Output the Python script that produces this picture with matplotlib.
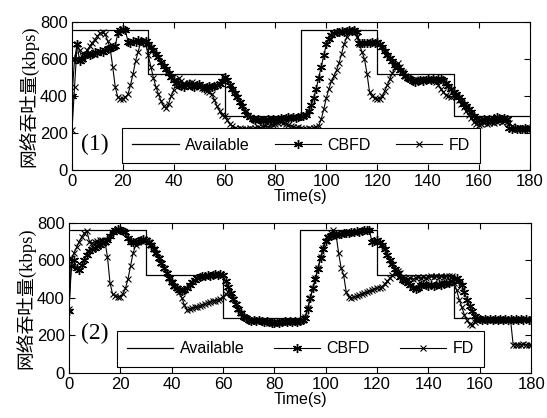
import matplotlib
matplotlib.use("Agg")
import matplotlib.pyplot as plt
import numpy as np

time_s = list(range(0, 181))

avail_edges = [0, 30, 60, 90, 120, 150, 180]
avail_levels = [760, 520, 290, 760, 520, 290, 290]

cbfd1 = [400, 600, 680, 590, 600, 620, 630, 625, 630, 640,
         635, 645, 640, 650, 655, 660, 665, 670, 740, 760,
         765, 755, 695, 690, 700, 695, 705, 700, 695, 700,
         680, 665, 650, 630, 610, 585, 565, 545, 525, 505,
         485, 470, 460, 455, 450, 460, 465, 455, 450, 460,
         465, 455, 445, 450, 455, 450, 455, 460, 465, 480,
         505, 485, 460, 440, 415, 395, 370, 345, 320, 300,
         285, 275, 270, 275, 270, 265, 270, 275, 270, 275,
         270, 275, 280, 275, 280, 285, 280, 285, 280, 285,
         290, 295, 300, 320, 350, 390, 440, 500, 560, 620,
         680, 710, 730, 740, 745, 745, 750, 745, 750, 755,
         750, 755, 745, 690, 685, 690, 685, 690, 695, 690,
         695, 680, 665, 645, 625, 605, 590, 570, 555, 540,
         525, 510, 500, 490, 480, 475, 480, 485, 480, 485,
         490, 485, 490, 485, 490, 495, 485, 470, 455, 440,
         425, 410, 395, 380, 360, 345, 330, 315, 295, 280,
         270, 270, 275, 270, 275, 270, 280, 285, 280, 275,
         280, 275, 230, 225, 230, 225, 220, 225, 230, 225,
         230]

fd1 = [215, 450, 680, 650, 600, 620, 650, 670, 690, 705,
       725, 740, 745, 735, 700, 660, 560, 450, 395, 385,
       385, 395, 410, 460, 520, 590, 640, 690, 700, 680,
       620, 560, 500, 450, 410, 375, 345, 335, 360, 400,
       435, 475, 500, 480, 470, 460, 470, 475, 465, 460,
       450, 445, 440, 430, 420, 410, 380, 345, 320, 300,
       290, 270, 250, 240, 230, 225, 230, 225, 220, 225,
       230, 225, 230, 235, 230, 235, 240, 235, 240, 245,
       250, 255, 260, 255, 250, 245, 240, 235, 230, 235,
       230, 225, 225, 230, 225, 230, 235, 240, 275, 330,
       390, 440, 480, 510, 540, 580, 630, 680, 720, 745,
       760, 750, 720, 680, 640, 600, 520, 420, 400, 390,
       385, 385, 400, 430, 460, 495, 525, 555, 580, 560,
       530, 510, 500, 490, 485, 480, 485, 490, 485, 490,
       485, 490, 485, 475, 460, 440, 420, 405, 400, 395,
       400, 395, 380, 360, 340, 320, 300, 280, 260, 250,
       245, 250, 255, 250, 255, 260, 255, 260, 265, 260,
       265, 260, 255, 240, 230, 225, 230, 225, 230, 225,
       230]

cbfd2 = [330, 570, 600, 560, 550, 575, 600, 630, 650, 660,
         665, 675, 680, 690, 700, 710, 730, 750, 760, 765,
         760, 755, 750, 720, 700, 695, 700, 705, 710, 715,
         710, 700, 680, 660, 640, 610, 585, 560, 530, 505,
         485, 465, 450, 440, 435, 440, 455, 470, 485, 495,
         505, 510, 515, 515, 520, 515, 520, 525, 520, 525,
         520, 490, 460, 425, 395, 365, 340, 320, 300, 290,
         280, 275, 280, 275, 280, 275, 270, 275, 270, 265,
         265, 270, 265, 270, 275, 270, 275, 270, 275, 270,
         275, 280, 295, 340, 400, 450, 500, 555, 610, 660,
         705, 725, 730, 735, 735, 740, 740, 745, 745, 745,
         750, 750, 755, 750, 755, 760, 760, 760, 700, 705,
         710, 700, 680, 660, 630, 600, 580, 555, 530, 510,
         495, 490, 480, 470, 455, 445, 450, 470, 475, 470,
         465, 470, 465, 470, 475, 470, 475, 480, 480, 490,
         500, 505, 490, 470, 430, 390, 355, 330, 305, 290,
         285, 280, 285, 280, 285, 280, 285, 280, 285, 280,
         285, 280, 285, 280, 285, 280, 285, 280, 285, 280,
         280]

fd2 = [340, 610, 640, 670, 700, 725, 745, 755, 700, 690,
       700, 705, 710, 710, 700, 620, 480, 420, 410, 405,
       405, 420, 450, 500, 570, 640, 680, 700, 705, 710,
       710, 700, 680, 660, 640, 610, 585, 560, 530, 505,
       485, 465, 450, 430, 400, 360, 335, 340, 345, 350,
       350, 355, 360, 365, 375, 380, 385, 385, 390, 395,
       405, 420, 430, 420, 395, 365, 340, 318, 300, 290,
       282, 278, 282, 276, 280, 274, 272, 276, 268, 266,
       268, 272, 266, 270, 276, 272, 276, 270, 274, 272,
       276, 282, 300, 345, 400, 455, 505, 560, 615, 665,
       705, 725, 745, 760, 740, 640, 560, 520, 430, 405,
       400, 405, 410, 415, 420, 425, 430, 435, 440, 445,
       450, 455, 460, 475, 490, 505, 520, 535, 545, 530,
       510, 505, 500, 505, 500, 505, 510, 505, 510, 505,
       510, 515, 510, 515, 510, 515, 510, 515, 515, 515,
       480, 440, 390, 350, 310, 280, 260, 255, 270, 280,
       285, 282, 285, 280, 284, 282, 285, 280, 284, 282,
       285, 282, 280, 150, 150, 148, 150, 152, 150, 148,
       150]

series = [(cbfd1, fd1, "(1)"), (cbfd2, fd2, "(2)")]

fig = plt.figure(figsize=(5.47, 4.18), dpi=100)
axes_rects = [[0.1316, 0.593, 0.837, 0.354], [0.126, 0.108, 0.845, 0.359]]
legend_boxes = [(0.109, 0.054, 0.782, 0.224), (0.103, 0.054, 0.795, 0.215)]
tag_pos = [(9, 140), (10, 210)]

tick_font = "Liberation Sans"
for i, (cb, fd, tag) in enumerate(series):
    ax = fig.add_axes(axes_rects[i])
    ax.plot(avail_edges, avail_levels, drawstyle="steps-post", color="black",
            lw=0.9, label="Available")
    ax.plot(time_s, cb, color="black", lw=0.8, marker=(6, 2, 0), ms=6.5,
            mew=1.0, label="CBFD")
    ax.plot(time_s, fd, color="black", lw=0.8, marker="x", ms=4.5,
            mew=0.8, label="FD")
    ax.set_xlim(0, 180)
    ax.set_ylim(0, 800)
    ax.set_xticks(range(0, 181, 20))
    ax.set_yticks(range(0, 801, 200))
    ax.tick_params(direction="in", top=True, right=True, length=4,
                   width=0.8, labelsize=12, pad=3)
    for lab in ax.get_xticklabels() + ax.get_yticklabels():
        lab.set_family(tick_font)
    for sp in ax.spines.values():
        sp.set_linewidth(0.8)
    ax.set_xlabel("Time(s)", fontsize=11.5, family=tick_font, labelpad=0)
    ax.set_ylabel("网络吞吐量(kbps)", fontsize=13.5,
                  family=["Liberation Serif", "Noto Sans CJK SC"], labelpad=1)
    leg = ax.legend(loc="center", bbox_to_anchor=legend_boxes[i], ncol=3,
                    mode="expand", fancybox=False, edgecolor="black",
                    framealpha=1, handlelength=2.9, borderpad=0.65,
                    columnspacing=0.6, handletextpad=0.4, borderaxespad=0,
                    prop={"family": tick_font, "size": 11.5})
    leg.get_frame().set_linewidth(0.8)
    ax.text(tag_pos[i][0], tag_pos[i][1], tag, ha="center", va="center",
            fontsize=17, family="Liberation Serif")

fig.savefig("out.png", dpi=100)
